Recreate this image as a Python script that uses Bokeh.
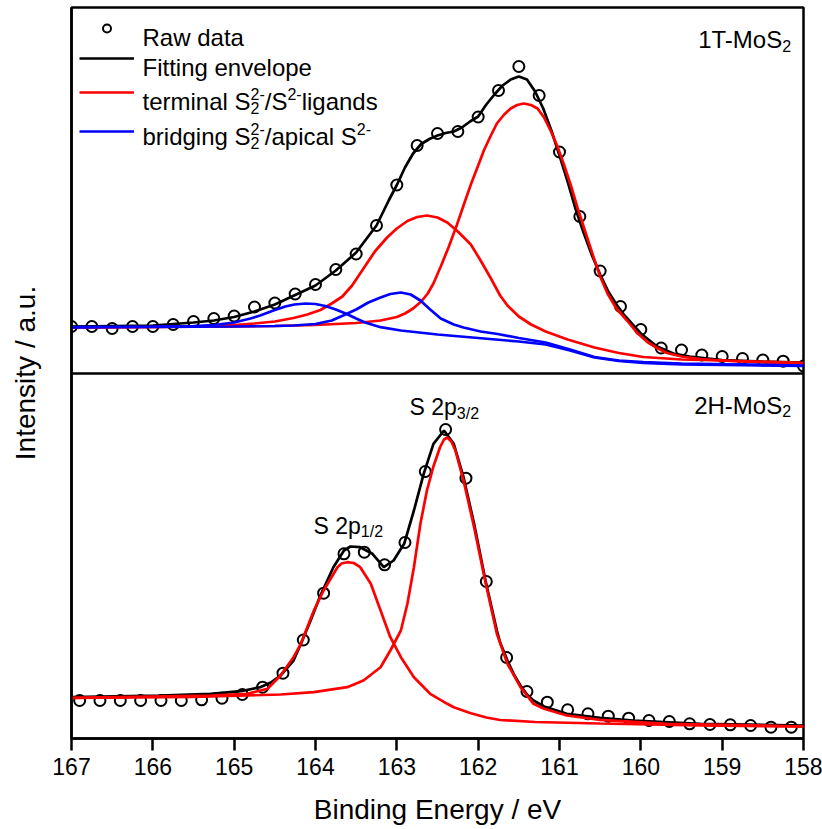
from bokeh.plotting import figure
from bokeh.models import Range1d, FixedTicker, Span, Label, Legend, LegendItem
from bokeh.embed import file_html
from bokeh.resources import INLINE

# ---------------- data (intensity in a.u.) ----------------
# 1T-MoS2 (upper panel)
t_raw_ev = [167.0, 166.75, 166.5, 166.25, 166.0, 165.75, 165.5, 165.25, 165.0, 164.75,
            164.5, 164.25, 164.0, 163.75, 163.5, 163.25, 163.0, 162.75, 162.5, 162.25,
            162.0, 161.75, 161.5, 161.25, 161.0, 160.75, 160.5, 160.25, 160.0, 159.75,
            159.5, 159.25, 159.0, 158.75, 158.5, 158.25, 158.0]
t_raw_i = [47, 47, 45, 47, 47, 49, 52, 55, 57.5, 66.5,
           70.5, 79.5, 89, 104, 119.5, 148, 188.5, 228, 240, 242,
           256.5, 283, 307, 278, 221.5, 157, 102.5, 67, 44, 25.5,
           23.5, 18.5, 17, 15, 13.5, 12.3, 7.5]

t_env_ev = [167.0, 166.0, 165.5, 165.25, 165.0, 164.75, 164.5, 164.25, 164.0, 163.75,
            163.5, 163.25, 163.1, 163.0, 162.9, 162.8, 162.7, 162.6, 162.5, 162.4,
            162.3, 162.2, 162.1, 162.0, 161.9, 161.8, 161.7, 161.6, 161.5, 161.4,
            161.3, 161.2, 161.1, 161.0, 160.9, 160.8, 160.7, 160.6, 160.5, 160.4,
            160.3, 160.2, 160.0, 159.8, 159.6, 159.4, 159.0, 158.5, 158.0]
t_env_i = [47, 48, 51, 53, 56.5, 62, 69, 78.5, 88, 103,
           121, 148, 173, 188.5, 206, 220, 229.5, 234.5, 238, 240.5,
           242, 246, 252, 257, 269, 279, 288, 294, 297, 294,
           282, 265, 243, 218, 192, 164, 140, 118, 99, 82,
           69, 58, 40, 27, 20, 17, 13.5, 12, 11]

t_term1_ev = [167.0, 166.0, 165.0, 164.5, 164.0, 163.5, 163.2, 163.0, 162.9, 162.8,
              162.7, 162.62, 162.55, 162.46, 162.36, 162.26, 162.18, 162.09, 162.0, 161.93,
              161.85, 161.77, 161.68, 161.6, 161.52, 161.44, 161.35, 161.27, 161.19, 161.11,
              161.03, 160.95, 160.86, 160.78, 160.68, 160.58, 160.5, 160.41, 160.3, 160.17,
              160.05, 159.92, 159.8, 159.68, 159.5, 159.27, 158.9, 158.5, 158.0]
t_term1_i = [46, 46.5, 47, 47.5, 48.5, 50.5, 53, 56.5, 60, 65,
             72, 80, 90, 107, 127, 149, 168, 189, 208, 223,
             237, 250, 259, 265, 268.5, 270, 268.5, 265, 256, 243,
             228, 210, 188, 166, 141, 116, 97, 80, 65, 53,
             41, 31.5, 25.5, 20.5, 17, 14.5, 12.5, 11.2, 10.3]

t_term2_ev = [167.0, 166.0, 165.5, 165.0, 164.75, 164.5, 164.27, 164.1, 163.94, 163.8,
              163.67, 163.55, 163.41, 163.27, 163.12, 163.0, 162.87, 162.75, 162.63, 162.5,
              162.38, 162.25, 162.09, 161.97, 161.85, 161.73, 161.64, 161.5, 161.35, 161.17,
              160.9, 160.57, 160.27, 159.97, 159.5, 158.77, 158.0]
t_term2_i = [46, 46.5, 47, 48.5, 50, 52, 55.5, 59, 63.5, 70,
             77, 88, 105, 122, 136, 145, 152.5, 156.5, 158, 156,
             151, 142, 129, 113, 96, 78, 68, 57, 49, 42,
             34, 26, 20.5, 16.5, 14, 12.5, 10.5]

t_brid1_ev = [167.0, 166.0, 165.5, 165.25, 165.0, 164.8, 164.68, 164.5, 164.37, 164.26,
              164.12, 164.0, 163.88, 163.75, 163.63, 163.5, 163.39, 163.2, 162.95, 162.5,
              162.0, 161.5, 161.17, 160.87, 160.57, 160.27, 159.97, 159.5, 158.0]
t_brid1_i = [46.5, 47, 47.5, 48.5, 51, 55, 58, 63.5, 67, 69,
             70, 69.5, 67.5, 64, 60, 55, 51, 46.3, 43, 39,
             35.5, 32, 29, 23, 16, 12.5, 10.5, 9.2, 7.5]

t_brid2_ev = [167.0, 166.0, 165.0, 164.5, 164.27, 164.0, 163.8, 163.66, 163.5, 163.35,
              163.2, 163.08, 162.95, 162.83, 162.71, 162.59, 162.46, 162.3, 162.18, 161.97,
              161.76, 161.5, 161.17, 160.87, 160.57, 160.27, 159.97, 159.5, 158.0]
t_brid2_i = [46, 46.5, 47, 47.5, 48, 49.5, 53, 58, 64, 71,
             76, 79.5, 81, 79, 73, 64, 55, 49, 46, 42,
             39.5, 35.5, 31, 24, 16.5, 13, 11.5, 10, 8]

# 2H-MoS2 (lower panel)
b_raw_ev = [166.9, 166.65, 166.4, 166.15, 165.9, 165.65, 165.4, 165.15, 164.9, 164.65,
            164.4, 164.15, 163.9, 163.65, 163.4, 163.15, 162.9, 162.65, 162.4, 162.15,
            161.9, 161.65, 161.4, 161.15, 160.9, 160.65, 160.4, 160.15, 159.9, 159.65,
            159.4, 159.15, 158.9, 158.65, 158.4, 158.15]
b_raw_i = [38, 38, 38, 38, 38, 38, 38.7, 40.3, 44, 51.3,
           65.3, 98.5, 145.3, 184.7, 186.3, 173.7, 196, 267, 309, 260.3,
           157, 81, 47, 36.3, 28.7, 24.7, 22.3, 20.3, 18, 17,
           14.7, 14, 13.7, 13, 11.3, 11.3]

b_env_ev = [167.0, 165.91, 165.29, 164.92, 164.68, 164.55, 164.43, 164.27, 164.18, 164.06,
            163.94, 163.78, 163.65, 163.57, 163.45, 163.3, 163.16, 163.04, 162.91, 162.79,
            162.67, 162.55, 162.42, 162.3, 162.18, 162.05, 161.91, 161.77, 161.73, 161.64,
            161.56, 161.48, 161.4, 161.32, 161.19, 160.91, 160.5, 160.09, 159.27, 158.0]
b_env_i = [41.3, 43, 44.7, 47.3, 51.3, 56, 63, 78, 94.5, 118,
           143, 171.3, 188, 192, 191.3, 184.7, 171.3, 178, 194.7, 228,
           264.7, 294.7, 308, 294.7, 261.3, 214.7, 158, 108, 96, 78,
           64, 53, 44, 38, 32, 24.7, 20.7, 18, 14.7, 13]

b_p32_ev = [167.0, 165.5, 164.43, 164.02, 163.61, 163.41, 163.2, 163.08, 162.95, 162.87,
            162.79, 162.71, 162.63, 162.55, 162.47, 162.42, 162.38, 162.33, 162.28, 162.18,
            162.05, 161.91, 161.77, 161.64, 161.48, 161.32, 161.19, 160.91, 160.5, 159.68, 158.0]
b_p32_i = [40.5, 41.5, 44, 46.3, 51.3, 58, 71.3, 88, 108, 134.7,
           171.3, 214.7, 248, 272, 291, 299, 301, 297, 288, 258,
           211.3, 156.3, 104.7, 74.7, 51.3, 34.7, 29.7, 23, 18.7, 14.7, 12]

b_p12_ev = [167.0, 165.29, 164.84, 164.59, 164.43, 164.27, 164.18, 164.02, 163.9, 163.73,
            163.68, 163.61, 163.53, 163.45, 163.32, 163.2, 163.08, 162.95, 162.79, 162.59,
            162.38, 162.3, 162.1, 161.9, 161.73, 161.3, 160.5, 159.27, 158.0]
b_p12_i = [40.7, 43, 44.7, 49.7, 63, 81.3, 94.7, 128, 148, 171.3,
           175, 176.3, 175.5, 171.3, 154.7, 128, 101.3, 81.3, 61.3, 44.7,
           34.7, 31.3, 25.5, 21, 18.5, 16.5, 15, 13, 12]

x_ticks = [158, 159, 160, 161, 162, 163, 164, 165, 166, 167]

# ---------------- layout constants ----------------
W, H = 822, 829
FL, FR, FT, FB = 71, 803, 7, 738          # frame edges in px
EV_L, EV_R = 167.0, 158.0
PXE = (FR - FL) / (EV_L - EV_R)
TOP_OFFSET = 365                          # upper panel shift (a.u.)
FONT = "Liberation Sans"
LW = 2.7


def X(px):
    return EV_L - (px - FL) / PXE


def Y(py):
    return FB - py


p = figure(width=W, height=H, x_range=Range1d(EV_L, EV_R), y_range=Range1d(0, FB - FT),
           output_backend="svg", toolbar_location=None,
           min_border_left=FL, min_border_right=W - FR, min_border_top=FT,
           min_border_bottom=H - FB)
p.xgrid.visible = False
p.ygrid.visible = False
p.outline_line_color = "black"
p.outline_line_width = 2.5
p.outline_line_alpha = 1.0

xa = p.xaxis[0]
xa.ticker = FixedTicker(ticks=x_ticks)
xa.major_tick_out = 12
xa.major_tick_in = 0
xa.minor_tick_out = 0
xa.minor_tick_in = 0
xa.axis_line_width = 2.5
xa.major_tick_line_width = 2.5
xa.major_label_text_font = FONT
xa.major_label_text_font_size = "23px"
xa.major_label_text_color = "black"
xa.major_label_standoff = 7
xa.axis_label = "Binding Energy / eV"
xa.axis_label_text_font = FONT
xa.axis_label_text_font_size = "28px"
xa.axis_label_text_font_style = "normal"
xa.axis_label_text_color = "black"
xa.axis_label_standoff = 16

ya = p.yaxis[0]
ya.ticker = FixedTicker(ticks=[])
ya.major_tick_out = 0
ya.major_tick_in = 0
ya.minor_tick_out = 0
ya.minor_tick_in = 0
ya.axis_line_width = 2.5
ya.axis_label = "Intensity / a.u."
ya.axis_label_text_font = FONT
ya.axis_label_text_font_size = "28px"
ya.axis_label_text_font_style = "normal"
ya.axis_label_text_color = "black"
ya.axis_label_standoff = 31

p.add_layout(Span(location=TOP_OFFSET, dimension="width", line_color="black", line_width=2.5))


def up(vals):
    return [v + TOP_OFFSET for v in vals]


# upper panel
r_raw = p.scatter(t_raw_ev, up(t_raw_i), marker="circle", size=11, fill_color=None,
                  line_color="black", line_width=2)
r_env = p.line(t_env_ev, up(t_env_i), line_color="black", line_width=LW)
r_term = p.line(t_term1_ev, up(t_term1_i), line_color="#ff0000", line_width=LW)
p.line(t_term2_ev, up(t_term2_i), line_color="#ff0000", line_width=LW)
r_brid = p.line(t_brid1_ev, up(t_brid1_i), line_color="#0000ff", line_width=LW)
p.line(t_brid2_ev, up(t_brid2_i), line_color="#0000ff", line_width=LW)

# lower panel
p.scatter(b_raw_ev, b_raw_i, marker="circle", size=11, fill_color=None,
          line_color="black", line_width=2)
p.line(b_env_ev, b_env_i, line_color="black", line_width=LW)
p.line(b_p12_ev, b_p12_i, line_color="#ff0000", line_width=LW)
p.line(b_p32_ev, b_p32_i, line_color="#ff0000", line_width=LW)

# legend samples (one legend per row so each row sits where it does in the picture)
GH = 20
for rend, pyc in [(r_raw, 27.5), (r_env, 58.3), (r_term, 91.7), (r_brid, 130.5)]:
    leg = Legend(items=[LegendItem(label=" ", renderers=[rend])],
                 location=(79 - FL, (FB - pyc) - GH / 2),
                 glyph_width=55, glyph_height=GH, padding=0, margin=0, spacing=0,
                 label_standoff=0, label_width=0, label_height=GH,
                 label_text_font_size="1px", border_line_alpha=0,
                 background_fill_alpha=0)
    p.add_layout(leg)

# ---------------- texts ----------------
ARIAL = {' ': 278, '-': 333, '/': 278, '.': 278, '1': 556, '2': 556, '3': 556,
         'S': 667, 'M': 833, 'T': 611, 'H': 722, 'R': 722, 'F': 611,
         'a': 556, 'b': 556, 'c': 500, 'd': 556, 'e': 556, 'g': 556, 'i': 222,
         'l': 222, 'm': 833, 'n': 556, 'o': 556, 'p': 556, 'r': 333, 's': 500,
         't': 278, 'v': 500, 'w': 722, 'y': 500, 'u': 556}


def tw(s, size):
    return sum(ARIAL.get(c, 556) for c in s) * size / 1000.0


def lab(px, py, s, size, align="left"):
    p.add_layout(Label(x=X(px), y=Y(py), text=s, text_font=FONT,
                       text_font_size=f"{size}px", text_baseline="alphabetic",
                       text_align=align, text_color="black"))


def rich(px, py, parts, size, small, raise_=7.0, drop=6.6):
    x = px
    for kind, t in parts:
        if kind == "n":
            lab(x, py, t, size)
            x += tw(t, size)
        elif kind == "sup":
            lab(x, py - raise_, t, small)
            x += tw(t, small)
        elif kind == "sub":
            lab(x, py + drop, t, small)
            x += tw(t, small)
        else:
            sb, sp = t
            lab(x, py + drop, sb, small)
            lab(x, py - raise_, sp, small)
            x += max(tw(sb, small), tw(sp, small))


LEG = 24
SMALL = 16
lab(142, 36.7, "Raw data", LEG)
lab(142, 66.5, "Fitting envelope", LEG)
rich(142, 100.7, [("n", "terminal S"), ("subsup", ("2", "2-")), ("n", "/S"),
                  ("sup", "2-"), ("n", "ligands")], LEG, SMALL)
rich(142, 135.5, [("n", "bridging S"), ("subsup", ("2", "2-")), ("n", "/apical S"),
                  ("sup", "2-")], LEG, SMALL)

# panel names
lab(781.7, 39.3, "1T-MoS", 24, align="right")
lab(781.7, 45.0, "2", 16)
lab(781.7, 405.0, "2H-MoS", 24, align="right")
lab(781.7, 410.7, "2", 16)

# peak labels
rich(409, 406.7, [("n", "S 2p"), ("sub", "3/2")], 23, 16, drop=6.0)
rich(313, 525.0, [("n", "S 2p"), ("sub", "1/2")], 23, 16, drop=6.0)

open("out.html", "w").write(file_html(p, INLINE))
